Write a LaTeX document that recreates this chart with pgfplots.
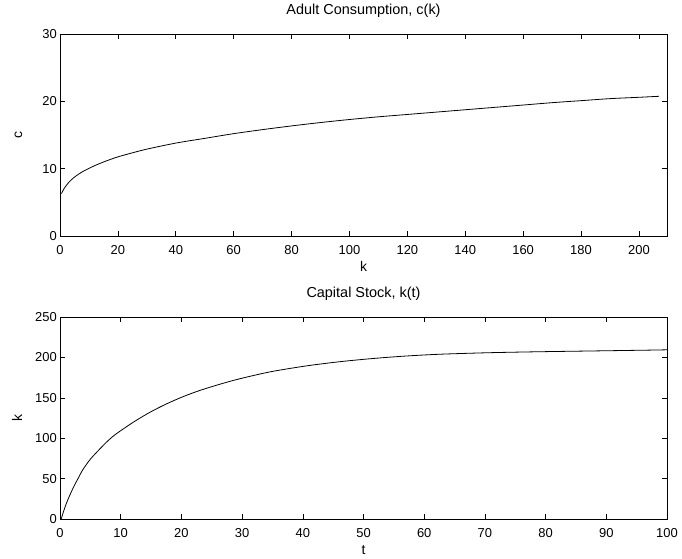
\documentclass[border=0pt]{standalone}
\usepackage{pgfplots}
\pgfplotsset{compat=1.18}
\usepackage{fontspec}
\setmainfont{Liberation Sans}

% consumption as a function of capital, c(k)
\pgfplotstableread{
k c
0.5 6.3
1.5 7.1
3 7.95
5 8.75
8 9.6
12 10.45
16 11.15
20 11.75
25 12.35
30 12.9
40 13.8
50 14.5
60 15.2
70 15.8
80 16.35
90 16.85
100 17.3
110 17.7
120 18.05
130 18.4
140 18.75
150 19.1
160 19.45
170 19.8
180 20.1
190 20.4
200 20.6
207 20.75
}\consumption

% capital stock over time, k(t)
\pgfplotstableread{
t k
0.2 0
0.7 12
1.3 24
2.2 39
3 50.5
3.8 61.5
5 74
6.6 87
8 97.5
9.3 105.6
12.1 119.9
14.8 132
17.5 142.3
20.3 151.5
23 159
25.8 165.6
28.5 171.4
31.3 176.6
35.1 182.8
40.6 189.5
46 194.6
51.5 198.6
57 201.7
62.5 203.9
69.6 205.6
75.1 206.5
80.6 207.2
86.1 207.8
91.6 208.4
97 209
100 209.4
}\capital

\pgfplotsset{
  matlab/.style={
    scale only axis,
    width=607bp, height=202bp,
    axis line style={line width=0.8pt},
    tick align=inside,
    tick pos=both,
    major tick length=5bp,
    tick style={line width=0.6pt, black},
    font=\fontsize{13}{15}\selectfont,
    /pgf/number format/assume math mode=true,
    xticklabel style={anchor=north, inner sep=0pt, yshift=-9bp},
    yticklabel style={anchor=east, inner sep=0pt, xshift=-3bp},
    title style={at={(axis description cs:0.5,1)}, anchor=base, yshift=13.5bp,
                 font=\fontsize{14.5}{16}\selectfont},
    xlabel style={at={(axis description cs:0.5,0)}, anchor=base, yshift=-35bp,
                  font=\fontsize{14}{16}\selectfont},
    ylabel style={anchor=south, inner sep=0pt, font=\fontsize{14}{16}\selectfont,
                  at={(axis description cs:-0.062,0.5)}},
  },
}

\begin{document}
\begin{tikzpicture}
\begin{axis}[
    matlab,
    name=top,
    at={(0,0)}, anchor=south west,
    title={Adult Consumption, c(k)},
    xlabel={k},
    ylabel={c},
    xmin=0, xmax=209.7,
    ymin=0, ymax=30,
    xtick={0,20,...,200},
    ytick={0,10,20,30},
]
\addplot[black, line width=0.8pt, smooth] table[x=k, y=c] {\consumption};
\end{axis}

\begin{axis}[
    matlab,
    name=bottom,
    at={(0,-81bp)}, anchor=north west,
    title={Capital Stock, k(t)},
    xlabel={t},
    ylabel={k},
    xmin=0, xmax=100,
    ymin=0, ymax=250,
    xtick={0,10,...,100},
    ytick={0,50,...,250},
]
\addplot[black, line width=0.8pt, smooth] table[x=t, y=k] {\capital};
\end{axis}

\pgfresetboundingbox
\path (-60bp,236bp) rectangle (622bp,-323bp);
\end{tikzpicture}
\end{document}
